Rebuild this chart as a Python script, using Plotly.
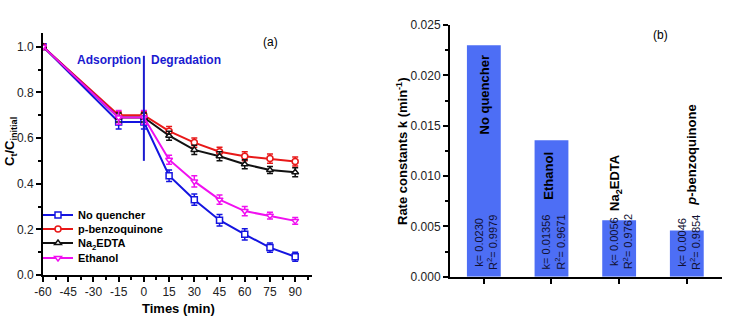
import plotly.graph_objects as go

# ---------------- data: panel (a) ----------------
times = [-60, -15, 0, 15, 30, 45, 60, 75, 90]
series_names = ["No quencher", "p-benzoquinone", "Na<sub>2</sub>EDTA", "Ethanol"]
no_quencher = [1.0, 0.67, 0.67, 0.435, 0.33, 0.24, 0.178, 0.12, 0.08]
p_benzoquinone = [1.0, 0.70, 0.70, 0.63, 0.58, 0.54, 0.52, 0.51, 0.497]
na2edta = [1.0, 0.69, 0.69, 0.61, 0.548, 0.52, 0.485, 0.46, 0.45]
ethanol = [1.0, 0.69, 0.69, 0.505, 0.41, 0.33, 0.28, 0.26, 0.237]
err_no_quencher = [0, 0.03, 0.03, 0.025, 0.025, 0.025, 0.025, 0.02, 0.02]
err_p_benzoquinone = [0, 0.015, 0.015, 0.02, 0.02, 0.02, 0.02, 0.02, 0.02]
err_na2edta = [0, 0.02, 0.02, 0.02, 0.02, 0.02, 0.02, 0.015, 0.02]
err_ethanol = [0, 0.03, 0.03, 0.02, 0.025, 0.02, 0.02, 0.015, 0.015]
x_ticks_a = [-60, -45, -30, -15, 0, 15, 30, 45, 60, 75, 90]
x_tick_labels_a = ["-60", "-45", "-30", "-15", "0", "15", "30", "45", "60", "75", "90"]
divider_x = 0
divider_y = [0.50, 0.96]

# ---------------- data: panel (b) ----------------
quenchers = ["No quencher", "Ethanol", "Na<sub>2</sub>EDTA", "<i>p</i>-benzoquinone"]
rate_k = [0.0230, 0.01356, 0.0056, 0.0046]
k_text = ["0.0230", "0.01356", "0.0056", "0.0046"]
r2_text = ["0.9979", "0.9671", "0.9762", "0.9854"]

# label styling (not data)
label_inside = [True, True, False, False]
label_yshift = [-8, -9, 7, 23]
label_xshift = [1, -3, -3, 5]

FONT = "Arial, Liberation Sans, sans-serif"
colors = ["#1414e0", "#e81818", "#111111", "#f010f0"]
symbols = ["square", "circle", "triangle-up", "triangle-down"]
ys = [no_quencher, p_benzoquinone, na2edta, ethanol]
errs = [err_no_quencher, err_p_benzoquinone, err_na2edta, err_ethanol]
legend_ids = ["legend", "legend2", "legend3", "legend4"]
legend_row_px = [215, 229, 243, 258]

W, H = 734, 336
ML, MR, MT, MB = 43, 12, 25, 59
PW, PH = W - ML - MR, H - MT - MB


def px_x(px):
    return (px - ML) / PW


def px_y(py):
    return (H - MB - py) / PH


def paper_text(xp, yp, text, size, angle=0, color="black"):
    return dict(x=px_x(xp), y=px_y(yp), xref="paper", yref="paper", text=text,
                textangle=angle, xanchor="center", yanchor="middle", showarrow=False,
                font=dict(family=FONT, size=size, color=color))


fig = go.Figure()
for name, y, e, c, s, lg in zip(series_names, ys, errs, colors, symbols, legend_ids):
    fig.add_trace(go.Scatter(
        x=times, y=y, name=name, mode="lines+markers",
        line=dict(color=c, width=2),
        marker=dict(symbol=s, size=6, color="white", line=dict(color=c, width=1.5)),
        error_y=dict(type="data", array=e, color=c, thickness=1.5, width=3),
        xaxis="x", yaxis="y", legend=lg,
    ))

fig.add_trace(go.Bar(
    x=quenchers, y=rate_k, width=0.5, marker=dict(color="#4d6ef5", line=dict(width=0)),
    showlegend=False, xaxis="x2", yaxis="y2",
))

annotations = []
# panel (a) texts
annotations.append(dict(x=-21, y=0.94, xref="x", yref="y", text="<b>Adsorption</b>",
                        xanchor="center", yanchor="middle",
                        showarrow=False, font=dict(family=FONT, size=12, color="#1a1ad0")))
annotations.append(dict(x=25, y=0.94, xref="x", yref="y", text="<b>Degradation</b>",
                        xanchor="center", yanchor="middle",
                        showarrow=False, font=dict(family=FONT, size=12, color="#1a1ad0")))
annotations.append(paper_text(270, 42, "(a)", 12))
annotations.append(paper_text(10, 142, "<b>C<sub>t</sub>/C<sub>initial</sub></b>", 13, angle=-90))
annotations.append(paper_text(178, 308, "<b>Times (min)</b>", 13))
# panel (b) texts
annotations.append(paper_text(660, 35, "(b)", 12))
annotations.append(paper_text(402, 151, "<b>Rate constants k (min<sup>-1</sup>)</b>", 13, angle=-90))
for q, k, kt, r2, inside, ysh, xsh in zip(quenchers, rate_k, k_text, r2_text,
                                          label_inside, label_yshift, label_xshift):
    annotations.append(dict(
        x=q, y=k, xref="x2", yref="y2", text="<b>" + q + "</b>", textangle=-90,
        showarrow=False, xanchor="center", yanchor="top" if inside else "bottom",
        yshift=ysh, xshift=xsh,
        font=dict(family=FONT, size=13, color="black")))
    annotations.append(dict(
        x=q, y=0, xref="x2", yref="y2",
        text="k= " + kt + "<br>R<sup>2</sup>= " + r2, textangle=-90,
        showarrow=False, xanchor="center", yanchor="bottom", yshift=5, xshift=2,
        font=dict(family=FONT, size=11, color="#111133")))

axis_common = dict(showline=True, linecolor="black", linewidth=2, ticks="outside",
                   tickcolor="black", tickwidth=2, ticklen=5, showgrid=False, zeroline=False,
                   automargin=False,
                   tickfont=dict(family=FONT, size=12, color="#222"))

legend_style = dict(x=px_x(38), xanchor="left", yanchor="middle",
                    bgcolor="rgba(0,0,0,0)", borderwidth=0,
                    font=dict(family=FONT, size=11, weight="bold"),
                    itemwidth=30)
legends = {}
for lg, row in zip(legend_ids, legend_row_px):
    legends[lg] = dict(y=px_y(row), **legend_style)

fig.update_layout(
    width=W, height=H, autosize=False,
    margin=dict(l=ML, r=MR, t=MT, b=MB, autoexpand=False),
    paper_bgcolor="white", plot_bgcolor="white",
    font=dict(family=FONT, color="black"),
    xaxis=dict(domain=[px_x(43), px_x(312)], range=[-60, 100], tickmode="array",
               tickvals=x_ticks_a, ticktext=x_tick_labels_a,
               minor=dict(dtick=7.5, tick0=-60, ticks="outside", ticklen=3, tickwidth=1.5, tickcolor="black"),
               anchor="y", **axis_common),
    yaxis=dict(domain=[px_y(275), px_y(33)], range=[0, 1.06], dtick=0.2, tick0=0,
               tickformat=".1f",
               minor=dict(dtick=0.1, tick0=0, ticks="outside", ticklen=3, tickwidth=1.5, tickcolor="black"),
               anchor="x", **axis_common),
    xaxis2=dict(domain=[px_x(450), px_x(722)], range=[-0.5, 3.52], showticklabels=False,
                anchor="y2", **axis_common),
    yaxis2=dict(domain=[max(0, px_y(276.7)), px_y(25)], range=[0, 0.025], dtick=0.005, tick0=0,
                tickformat=".3f",
                minor=dict(dtick=0.0025, tick0=0, ticks="outside", ticklen=3, tickwidth=1.5, tickcolor="black"),
                anchor="x2", **axis_common),
    annotations=annotations,
    shapes=[dict(type="line", xref="x", yref="y", x0=divider_x, x1=divider_x,
                 y0=divider_y[0], y1=divider_y[1], line=dict(color="#1a1ad0", width=2))],
    **legends,
)

fig.write_html("out.html", config={"displayModeBar": False},
               post_script="document.body.style.margin='0';")
